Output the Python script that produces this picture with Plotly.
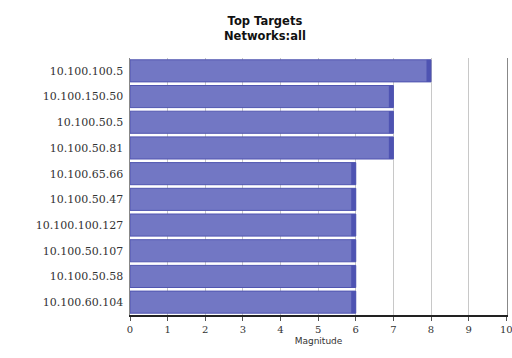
import plotly.graph_objects as go

targets = ["10.100.100.5", "10.100.150.50", "10.100.50.5", "10.100.50.81",
           "10.100.65.66", "10.100.50.47", "10.100.100.127", "10.100.50.107",
           "10.100.50.58", "10.100.60.104"]
magnitude = [8, 7, 7, 7, 6, 6, 6, 6, 6, 6]
x_ticks = list(range(0, 11))

cap = 0.12
fig = go.Figure()
fig.add_trace(go.Bar(
    y=targets, x=magnitude, orientation="h",
    marker=dict(color="#7277c4", line=dict(color="#5055b0", width=1)),
    width=0.86, hoverinfo="x+y",
))
fig.add_trace(go.Bar(
    y=targets, x=[cap] * len(magnitude), base=[m - cap for m in magnitude],
    orientation="h", marker=dict(color="#4e53b2", line=dict(width=0)),
    width=0.86, hoverinfo="skip",
))
fig.update_layout(
    width=512, height=358,
    margin=dict(l=130, r=5, t=58, b=43),
    paper_bgcolor="white", plot_bgcolor="white",
    showlegend=False, barmode="overlay",
    annotations=[dict(
        text="<b>Top Targets<br>Networks:all</b>",
        xref="paper", yref="paper", x=(265 - 130) / (512 - 135), y=1 + 46 / 257,
        xanchor="center", yanchor="top", showarrow=False,
        font=dict(family="DejaVu Sans", size=11.5, color="#111"),
    )],
)
fig.update_xaxes(
    range=[0, 10.02], tickvals=x_ticks, ticks="outside", ticklen=4, tickcolor="#555",
    showgrid=True, gridcolor="#c8c8c8", gridwidth=1, automargin=False,
    ticklabeloverflow="allow",
    showline=True, linecolor="#222", linewidth=1.5, mirror=False,
    tickfont=dict(family="DejaVu Serif", size=10, color="#333"),
    title=dict(text="Magnitude", font=dict(family="DejaVu Sans", size=9, color="#333"), standoff=4),
    zeroline=False,
)
fig.update_yaxes(
    autorange="reversed", showline=True, linecolor="#888", linewidth=1, mirror=True,
    tickfont=dict(family="DejaVu Serif", size=11, color="#333"), ticks="",
    ticksuffix=" ", automargin=False,
)
fig.write_html("out.html")
